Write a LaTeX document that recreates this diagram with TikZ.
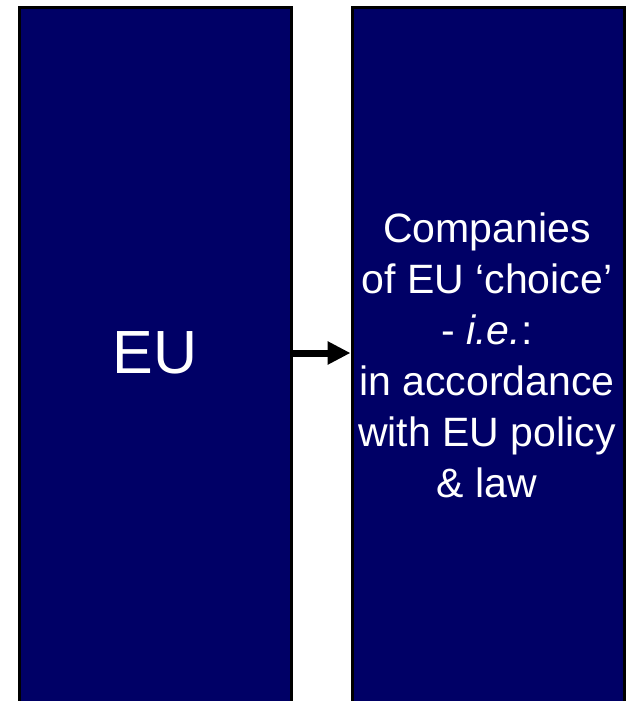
\documentclass[tikz,border=0pt]{standalone}
\usepackage{fontspec}
\setmainfont{Liberation Sans}
\usetikzlibrary{arrows.meta}
\definecolor{euBlue}{RGB}{0,0,102}
\tikzstyle{panel} = [rectangle, draw=black, line width=3pt, fill=euBlue, minimum width=272pt, minimum height=740pt, anchor=north]
\tikzstyle{paneltext} = [text=white, align=center, font=\fontsize{41}{51}\selectfont]
\tikzstyle{arrow} = [line width=7pt, -{Triangle[length=23pt, width=22pt]}]

\begin{document}
\begin{tikzpicture}[x=1pt, y=-1pt]
    \useasboundingbox (0,0) rectangle (631,701);
    \node(eu)[panel] at (155.5,6.5){};
    \node(companies)[panel] at (488,6.5){};
    \node(euText)[paneltext, font=\fontsize{61}{70}\selectfont] at (155,353){EU};
    \node(companiesText)[paneltext] at (487,355){Companies\\of EU ‘choice’\\- \textit{i.e.}:\\in accordance\\with EU policy\\\& law};
    \draw [arrow] (euText -| eu.east) -- (euText -| companies.west);
\end{tikzpicture}
\end{document}
